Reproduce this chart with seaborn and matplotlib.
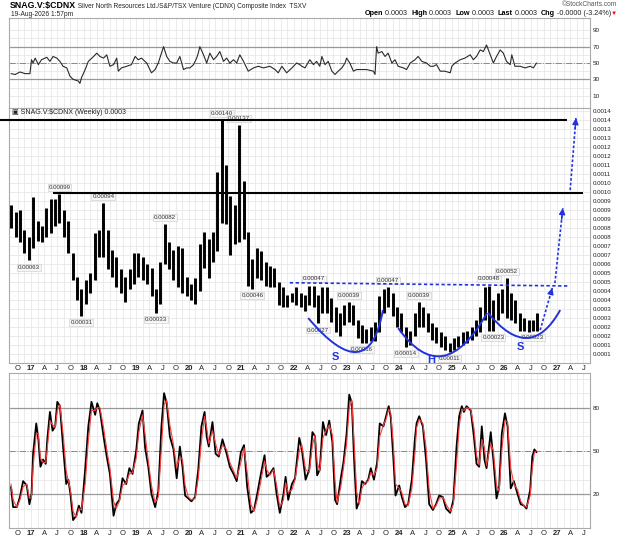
import numpy as np
import pandas as pd
import seaborn as sns
import matplotlib.pyplot as plt
from matplotlib.path import Path
from matplotlib.patches import PathPatch
from matplotlib.offsetbox import TextArea, HPacker, AnchoredOffsetbox

sns.set_style("white")
plt.rcParams['font.family'] = ['Liberation Sans', 'DejaVu Sans']

# ---- price: monthly high / low of the weekly bars (units of 0.00001), Aug 2016 .. Aug 2026
price_high = [93, 89, 90, 79, 75,
              97, 84, 81, 91, 96, 96, 99, 90, 84, 66, 53, 46,
              51, 55, 77, 79, 94, 79, 68, 64, 57, 53, 57, 66,
              66, 64, 60, 58, 46, 61, 82, 72, 68, 70, 69, 53,
              49, 52, 71, 78, 74, 78, 111, 140, 115, 98, 93, 137,
              106, 78, 63, 69, 67, 61, 59, 58, 50, 47, 43, 44,
              47, 44, 43, 48, 48, 43, 47, 47, 41, 36, 33, 37,
              39, 37, 29, 26, 24, 25, 28, 42, 46, 47, 44, 36,
              33, 25, 23, 33, 39, 36, 33, 27, 25, 22, 20, 16,
              19, 20, 22, 23, 25, 29, 36, 47, 48, 40, 44, 46,
              52, 44, 40, 33, 30, 29, 29, 33]
price_low = [80, 75, 72, 66, 62,
             69, 73, 72, 75, 77, 81, 83, 75, 66, 51, 40, 31,
             38, 44, 51, 64, 64, 57, 53, 47, 44, 39, 46, 49,
             53, 51, 49, 42, 33, 38, 60, 57, 51, 47, 44, 42,
             40, 38, 45, 58, 52, 61, 67, 83, 82, 65, 71, 72,
             74, 48, 46, 52, 51, 48, 47, 47, 37, 36, 36, 39,
             37, 36, 34, 37, 36, 27, 33, 33, 28, 22, 20, 26,
             28, 26, 19, 16, 16, 17, 17, 22, 33, 36, 31, 25,
             22, 14, 15, 20, 25, 25, 22, 18, 16, 14, 12, 11,
             12, 14, 15, 16, 18, 20, 22, 29, 23, 23, 29, 33,
             30, 29, 27, 23, 23, 22, 23, 23]

# labelled highs and lows (text, month, value)
peak_labels = [("0.00099", "2017-07", 0.00099), ("0.00094", "2018-05", 0.00094),
               ("0.00082", "2019-07", 0.00082), ("0.00140", "2020-08", 0.00140),
               ("0.00137", "2020-12", 0.00137), ("0.00047", "2022-05", 0.00048),
               ("0.00039", "2023-01", 0.00039), ("0.00047", "2023-10", 0.00047),
               ("0.00039", "2024-05", 0.00039), ("0.00048", "2025-09", 0.00048),
               ("0.00052", "2026-01", 0.00052)]
trough_labels = [("0.00063", "2016-12", 0.00062), ("0.00031", "2017-12", 0.00031),
                 ("0.00033", "2019-05", 0.00033), ("0.00046", "2021-03", 0.00046),
                 ("0.00027", "2022-06", 0.00027), ("0.00016", "2023-04", 0.00016),
                 ("0.00014", "2024-02", 0.00014), ("0.00011", "2024-12", 0.00011),
                 ("0.00023", "2025-10", 0.00023), ("0.00023", "2026-07", 0.00023)]

# right axis labels of the price panel, bottom to top
price_tick_labels = ["0.0001", "0.0001", "0.0002", "0.0002", "0.0003", "0.0003", "0.0004",
                     "0.0004", "0.0005", "0.0005", "0.0006", "0.0007", "0.0007", "0.0008",
                     "0.0008", "0.0009", "0.0009", "0.0009", "0.0010", "0.0010", "0.0011",
                     "0.0011", "0.0012", "0.0012", "0.0013", "0.0013", "0.0014", "0.0014"]

# ---- RSI (decimal year, value)
rsi_x = [2016.62, 2016.70, 2016.79, 2016.89, 2016.98,
         2017.01, 2017.04, 2017.08, 2017.14, 2017.20, 2017.30, 2017.36, 2017.42, 2017.49, 2017.55,
         2017.61, 2017.68, 2017.74, 2017.80, 2017.90, 2017.93, 2017.96,
         2018.03, 2018.09, 2018.19, 2018.25, 2018.31, 2018.38, 2018.44, 2018.50, 2018.57, 2018.63,
         2018.66, 2018.72, 2018.82, 2018.91, 2018.98,
         2019.04, 2019.10, 2019.20, 2019.29, 2019.36, 2019.42, 2019.48, 2019.52, 2019.58, 2019.64,
         2019.71, 2019.77, 2019.83, 2019.90, 2019.96,
         2020.02, 2020.09, 2020.15, 2020.18, 2020.21, 2020.28, 2020.34, 2020.40, 2020.47, 2020.53,
         2020.59, 2020.66, 2020.72, 2020.78, 2020.85, 2020.91, 2020.97,
         2021.04, 2021.13, 2021.23, 2021.32, 2021.42, 2021.54, 2021.64, 2021.70, 2021.77, 2021.86,
         2021.96,
         2022.05, 2022.11, 2022.15, 2022.21, 2022.30, 2022.37, 2022.43, 2022.49, 2022.53, 2022.59,
         2022.65, 2022.72, 2022.78, 2022.84, 2022.91, 2022.97,
         2023.00, 2023.06, 2023.13, 2023.19, 2023.29, 2023.38, 2023.51, 2023.54, 2023.57, 2023.60,
         2023.67, 2023.73, 2023.79, 2023.86, 2023.92, 2023.98,
         2024.08, 2024.14, 2024.21, 2024.30, 2024.36, 2024.43, 2024.52, 2024.59, 2024.65, 2024.71,
         2024.78, 2024.87, 2024.97,
         2025.00, 2025.06, 2025.16, 2025.25, 2025.35, 2025.41, 2025.47, 2025.54, 2025.60, 2025.66,
         2025.73, 2025.79, 2025.85, 2025.92, 2025.98,
         2026.04, 2026.11, 2026.14, 2026.20, 2026.30, 2026.39, 2026.49, 2026.55, 2026.61]
rsi_val = [37, 36, 39, 37, 37,
           54, 50, 56, 48, 54, 57, 52, 58, 56, 52, 46, 44, 34, 30, 28, 25, 32,
           42, 52, 58, 62, 58, 56, 60, 46, 48, 56, 40, 44, 46, 48, 58,
           54, 56, 50, 38, 42, 50, 62, 70, 58, 52, 50, 50, 58, 42, 44,
           44, 48, 56, 62, 70, 60, 50, 62, 54, 58, 64, 52, 56, 50, 54, 50, 60,
           52, 40, 44, 46, 44, 46, 42, 38, 46, 38, 44,
           50, 48, 46, 44, 54, 48, 52, 46, 58, 48, 52, 40, 36, 40, 44, 50,
           56, 50, 40, 42, 42, 42, 40, 36, 70, 62, 64, 58, 62, 50, 54, 46,
           44, 42, 50, 54, 58, 52, 50, 46, 46, 48, 40, 40, 38,
           46, 50, 54, 56, 60, 54, 58, 66, 64, 72, 60, 50, 58, 66, 62,
           52, 48, 60, 46, 46, 44, 46, 44, 50]

# ---- slow stochastic (decimal year, %K, %D)
stoch_x = [2016.62, 2016.66, 2016.73, 2016.79, 2016.85, 2016.92, 2016.97,
           2017.01, 2017.04, 2017.10, 2017.14, 2017.18, 2017.23, 2017.28, 2017.31, 2017.36, 2017.41,
           2017.46, 2017.50, 2017.55, 2017.61, 2017.67, 2017.71, 2017.75, 2017.80, 2017.86, 2017.91,
           2017.96,
           2018.03, 2018.09, 2018.15, 2018.22, 2018.26, 2018.31, 2018.38, 2018.44, 2018.50, 2018.57,
           2018.62, 2018.68, 2018.74, 2018.81, 2018.87, 2018.93,
           2019.00, 2019.05, 2019.12, 2019.17, 2019.23, 2019.29, 2019.36, 2019.42, 2019.48, 2019.53,
           2019.58, 2019.64, 2019.71, 2019.77, 2019.83, 2019.88, 2019.93, 2019.99,
           2020.05, 2020.12, 2020.18, 2020.24, 2020.30, 2020.34, 2020.38, 2020.45, 2020.51, 2020.57,
           2020.64, 2020.72, 2020.78, 2020.85, 2020.91, 2020.99,
           2021.05, 2021.11, 2021.18, 2021.24, 2021.30, 2021.37, 2021.44, 2021.48, 2021.54, 2021.61,
           2021.67, 2021.73, 2021.80, 2021.84, 2021.89, 2021.96,
           2022.02, 2022.10, 2022.15, 2022.22, 2022.29, 2022.35, 2022.40, 2022.44, 2022.49, 2022.55,
           2022.61, 2022.67, 2022.73, 2022.78, 2022.82, 2022.89, 2022.94,
           2023.00, 2023.05, 2023.10, 2023.14, 2023.19, 2023.24, 2023.29, 2023.35, 2023.41, 2023.46,
           2023.52, 2023.58, 2023.63, 2023.70, 2023.75, 2023.80, 2023.84, 2023.89, 2023.93,
           2024.00, 2024.05, 2024.11, 2024.17, 2024.24, 2024.30, 2024.33, 2024.38, 2024.45, 2024.51,
           2024.57, 2024.64, 2024.70, 2024.76, 2024.83, 2024.89, 2024.97,
           2025.03, 2025.09, 2025.14, 2025.19, 2025.23, 2025.28, 2025.36, 2025.42, 2025.47, 2025.52,
           2025.57, 2025.62, 2025.66, 2025.74, 2025.79, 2025.85, 2025.90, 2025.95,
           2026.01, 2026.06, 2026.12, 2026.18, 2026.25, 2026.31, 2026.37, 2026.42, 2026.49, 2026.53,
           2026.57, 2026.61]
stoch_k = [25, 11, 11, 18, 29, 26, 13,
           20, 48, 69, 58, 39, 44, 41, 58, 77, 64, 67, 84, 81, 53, 27, 30, 20, 2, 5, 12, 7,
           37, 67, 84, 75, 83, 78, 60, 46, 34, 5, 13, 16, 31, 27, 38, 34,
           50, 69, 78, 52, 39, 20, 11, 22, 67, 90, 83, 60, 51, 31, 53, 39, 19, 17,
           15, 18, 37, 67, 77, 60, 53, 70, 48, 46, 58, 48, 39, 34, 29, 49,
           54, 25, 7, 9, 20, 34, 47, 32, 34, 38, 20, 7, 20, 32, 16, 27,
           31, 59, 51, 30, 37, 63, 60, 33, 37, 70, 61, 71, 56, 16, 13, 31, 42,
           62, 89, 83, 46, 10, 15, 29, 27, 30, 38, 30, 42, 69, 67, 74, 81, 73, 44, 19,
           26, 18, 11, 13, 30, 59, 69, 74, 67, 44, 13, 9, 13, 19, 18, 10, 7,
           16, 53, 74, 81, 77, 81, 78, 60, 41, 39, 67, 44, 38, 63, 44, 17, 25, 62,
           76, 67, 24, 29, 20, 13, 12, 10, 23, 46, 51, 49]
stoch_d = [27, 16, 11, 16, 25, 27, 17,
           18, 39, 62, 62, 45, 42, 42, 52, 71, 68, 66, 78, 82, 62, 36, 29, 23, 8, 4, 10, 9,
           27, 57, 78, 78, 80, 80, 66, 51, 38, 15, 10, 15, 26, 28, 34, 35,
           45, 63, 75, 61, 43, 26, 14, 18, 52, 82, 85, 68, 54, 38, 46, 44, 26, 18,
           16, 17, 31, 57, 74, 66, 55, 64, 55, 47, 54, 51, 42, 36, 31, 42,
           52, 35, 13, 8, 16, 29, 43, 37, 33, 37, 26, 11, 16, 28, 21, 23,
           30, 50, 54, 37, 35, 54, 61, 42, 36, 59, 64, 68, 61, 29, 14, 25, 38,
           55, 80, 85, 58, 22, 13, 24, 28, 29, 35, 33, 38, 60, 68, 72, 79, 76, 54, 27,
           24, 21, 13, 12, 24, 49, 66, 72, 69, 52, 23, 10, 12, 17, 18, 13, 8,
           13, 41, 67, 79, 78, 80, 79, 66, 47, 40, 58, 52, 40, 55, 50, 26, 22, 50,
           71, 70, 38, 27, 23, 15, 12, 11, 19, 38, 49, 50]

# ---- hand drawn annotations (decimal year, price)
hs_curves = [[(2022.27, 0.000300), (2023.20, 0.000111), (2023.69, 0.000344)],
             [(2023.98, 0.000244), (2024.83, 0.000089), (2025.67, 0.000328)],
             [(2025.69, 0.000328), (2026.43, 0.000189), (2027.06, 0.000344)]]
hs_letters = [("S", 2022.78, 0.000085), ("H", 2024.60, 0.000067), ("S", 2026.30, 0.000139)]
neckline = [(2021.92, 0.000496), (2027.21, 0.000478)]
target_arrows = [[(2026.68, 0.000233), (2026.91, 0.000467)],
                 [(2026.96, 0.000494), (2027.11, 0.000911)],
                 [(2027.25, 0.001011), (2027.36, 0.001411)]]
black_lines = [(2016.41, 2027.19, 0.00140), (2017.42, 2027.49, 0.000995)]

BLUE = '#2233dd'
W, H = 624, 538


def month_pos(s):
    p = pd.Period(s, 'M')
    return p.year + (p.month - 0.5) / 12


months = pd.period_range("2016-08", "2026-08", freq="M")
month_x = np.asarray(months.year + (months.month - 0.5) / 12, dtype=float)
highs = np.array(price_high) * 1e-5
lows = np.array(price_low) * 1e-5

tick_x, tick_lbl = [], []
for yr in range(2016, 2028):
    for mth, letter in [(1, None), (4, 'A'), (7, 'J'), (10, 'O')]:
        if (yr, mth) < (2016, 10) or (yr, mth) > (2027, 7):
            continue
        tick_x.append(yr + (mth - 1) / 12)
        tick_lbl.append(f"{yr % 100:02d}" if letter is None else letter)
grid_x = [t + 0.125 for t in tick_x]
x_left, x_right = 2016.582, 2027.627

fig = plt.figure(figsize=(6.24, 5.38), dpi=100)


def box(x0, y0, x1, y1):
    return [x0 / W, 1 - y1 / H, (x1 - x0) / W, (y1 - y0) / H]


ax_rsi = fig.add_axes(box(9, 18, 590, 108))
ax_px = fig.add_axes(box(9, 108, 590, 363))
ax_st = fig.add_axes(box(9, 373, 590, 528))


def style(ax, show_x):
    ax.set_xlim(x_left, x_right)
    ax.set_xticks(tick_x)
    ax.set_xticklabels(tick_lbl if show_x else [])
    ax.set_xticks(grid_x, minor=True)
    ax.grid(True, which='both', color='#e8e8e8', lw=0.6)
    ax.set_axisbelow(True)
    ax.yaxis.tick_right()
    ax.tick_params(which='both', length=0, labelsize=4.6, pad=2, colors='#222222')
    ax.tick_params(axis='x', labelsize=5.5, pad=1.5)
    for lbl in ax.get_xticklabels():
        if lbl.get_text().isdigit():
            lbl.set_fontweight('bold')
    for s in ax.spines.values():
        s.set_color('#aaaaaa')
        s.set_linewidth(0.8)


# RSI panel
sns.lineplot(x=rsi_x, y=rsi_val, ax=ax_rsi, color='#2a2a2a', lw=0.8)
ax_rsi.set_ylim(-5, 105)
ax_rsi.set_yticks([10, 30, 50, 70, 90])
ax_rsi.set_yticks([20, 40, 60, 80], minor=True)
for lv in (30, 70):
    ax_rsi.axhline(lv, color='#999999', lw=0.9, zorder=1)
ax_rsi.axhline(50, color='#888888', lw=0.7, ls='-.', zorder=1)
style(ax_rsi, False)

# price panel
ax_px.vlines(month_x, lows, highs, color='black', lw=2.1, zorder=3)
ax_px.set_ylim(0.00005, 0.001467)
ax_px.set_yticks(np.arange(2, 30) * 0.00005)
ax_px.set_yticklabels(price_tick_labels)
style(ax_px, True)
ax_px.tick_params(axis='y', labelsize=4.4)

lab_style = dict(fontsize=4.4, color='#333333', ha='center', textcoords='offset points',
                 bbox=dict(boxstyle='square,pad=0.15', fc='#f6f6f6', ec='#c8c8c8', lw=0.4),
                 zorder=4)
for txt, mon, val in peak_labels:
    ax_px.annotate(txt, (month_pos(mon), val), xytext=(0, 3), va='bottom', **lab_style)
for txt, mon, val in trough_labels:
    ax_px.annotate(txt, (month_pos(mon), val), xytext=(0, -3), va='top', **lab_style)

for x0, x1, y in black_lines:
    ax_px.plot([x0, x1], [y, y], color='black', lw=1.5, clip_on=False,
               solid_capstyle='butt', zorder=5)

for p0, bottom, p2 in hs_curves:
    ctrl = (2 * bottom[0] - (p0[0] + p2[0]) / 2, 2 * bottom[1] - (p0[1] + p2[1]) / 2)
    path = Path([p0, ctrl, p2], [Path.MOVETO, Path.CURVE3, Path.CURVE3])
    ax_px.add_patch(PathPatch(path, fill=False, ec=BLUE, lw=1.4, zorder=6))
for letter, lx, ly in hs_letters:
    ax_px.text(lx, ly, letter, color=BLUE, fontsize=8, fontweight='bold',
               ha='center', va='center', zorder=6)

ax_px.plot([p[0] for p in neckline], [p[1] for p in neckline], color=BLUE, lw=1.2,
           ls=(0, (2, 1.5)), zorder=6)
for (x0, y0), (x1, y1) in target_arrows:
    ax_px.plot([x0, x1], [y0, y1], color=BLUE, lw=1.2, ls=(0, (1.6, 1.2)), zorder=6,
               clip_on=False)
    ax_px.annotate('', xy=(x1, y1), xytext=(x0 + 0.85 * (x1 - x0), y0 + 0.85 * (y1 - y0)),
                   arrowprops=dict(arrowstyle='-|>', color=BLUE, lw=1.0, mutation_scale=9,
                                   shrinkA=0, shrinkB=0), zorder=7)

fig.text(12 / W, 1 - 112 / H, "\u25a3 SNAG.V:$CDNX (Weekly) 0.0003", fontsize=5,
         va='center', color='#222222')

# stochastic panel
sns.lineplot(x=stoch_x, y=stoch_k, ax=ax_st, color='black', lw=1.3)
sns.lineplot(x=stoch_x, y=stoch_d, ax=ax_st, color='#ff3b3b', lw=0.8)
ax_st.set_ylim(-3.5, 104)
ax_st.set_yticks([20, 50, 80])
ax_st.set_yticks([10, 30, 40, 60, 70, 90, 100], minor=True)
for lv in (20, 80):
    ax_st.axhline(lv, color='#999999', lw=0.9, zorder=1)
ax_st.axhline(50, color='#888888', lw=0.7, ls='-.', zorder=1)
style(ax_st, True)


# header
def packed(parts):
    areas = [TextArea(t, textprops=dict(fontsize=fs, fontweight=w, color=c))
             for t, fs, w, c in parts]
    return HPacker(children=areas, align='baseline', pad=0, sep=0)


title_box = AnchoredOffsetbox(
    loc='upper left', pad=0, borderpad=0, frameon=False,
    child=packed([("SNAG.V:$CDNX", 6.3, 'bold', 'black'),
                  (" Silver North Resources Ltd./S&P/TSX Venture (CDNX) Composite Index  TSXV",
                   4.7, 'normal', '#222222')]),
    bbox_to_anchor=(10 / W, 1 - 1 / H), bbox_transform=fig.transFigure)
fig.add_artist(title_box)

info_box = AnchoredOffsetbox(
    loc='upper right', pad=0, borderpad=0, frameon=False,
    child=packed([("Open", 5.2, 'bold', 'black'), (" 0.0003  ", 5.2, 'normal', '#222222'),
                  ("High", 5.2, 'bold', 'black'), (" 0.0003  ", 5.2, 'normal', '#222222'),
                  ("Low", 5.2, 'bold', 'black'), (" 0.0003  ", 5.2, 'normal', '#222222'),
                  ("Last", 5.2, 'bold', 'black'), (" 0.0003  ", 5.2, 'normal', '#222222'),
                  ("Chg", 5.2, 'bold', 'black'), (" -0.0000 (-3.24%)", 5.2, 'normal', '#222222'),
                  ("\u25bc", 4.5, 'normal', 'red')]),
    bbox_to_anchor=(617 / W, 1 - 10 / H), bbox_transform=fig.transFigure)
fig.add_artist(info_box)

fig.text(11 / W, 1 - 14 / H, "19-Aug-2026 1:57pm", fontsize=4.8, va='center', color='#222222')
fig.text(617 / W, 1 - 5 / H, "\u00a9StockCharts.com", fontsize=4.8, ha='right', va='center',
         color='#555555')

fig.savefig("out.png", dpi=100, facecolor='white')
